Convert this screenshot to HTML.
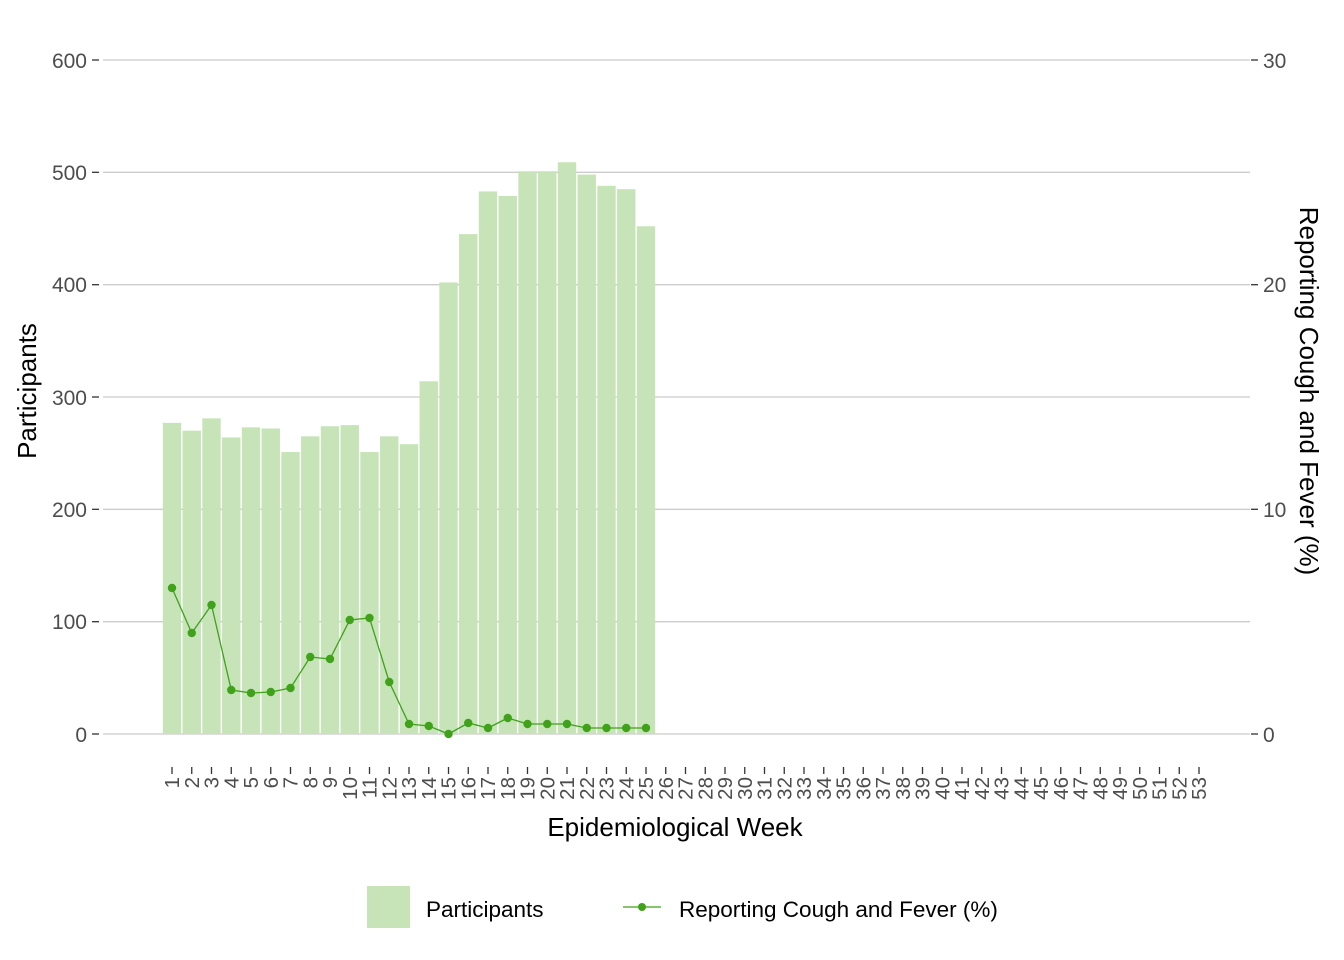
<!DOCTYPE html>
<html><head><meta charset="utf-8"><style>body{margin:0;background:#fff}svg{display:block;font-family:"Liberation Sans",Arial,sans-serif}</style></head><body>
<svg width="1344" height="960" viewBox="0 0 1344 960" xmlns="http://www.w3.org/2000/svg">
<g stroke="#cccccc" stroke-width="1.3">
<line x1="103" x2="1250" y1="60" y2="60"/><line x1="103" x2="1250" y1="172.3" y2="172.3"/><line x1="103" x2="1250" y1="284.7" y2="284.7"/><line x1="103" x2="1250" y1="397" y2="397"/><line x1="103" x2="1250" y1="509.3" y2="509.3"/><line x1="103" x2="1250" y1="621.7" y2="621.7"/><line x1="103" x2="1250" y1="734" y2="734"/>
</g>
<g stroke="#333" stroke-width="1.3">
<line x1="92" x2="99" y1="60" y2="60"/><line x1="92" x2="99" y1="172.3" y2="172.3"/><line x1="92" x2="99" y1="284.7" y2="284.7"/><line x1="92" x2="99" y1="397" y2="397"/><line x1="92" x2="99" y1="509.3" y2="509.3"/><line x1="92" x2="99" y1="621.7" y2="621.7"/><line x1="92" x2="99" y1="734" y2="734"/>
<line x1="1251" x2="1258" y1="60" y2="60"/><line x1="1251" x2="1258" y1="284.7" y2="284.7"/><line x1="1251" x2="1258" y1="509.3" y2="509.3"/><line x1="1251" x2="1258" y1="734" y2="734"/>
</g>
<g font-size="21" fill="#4d4d4d" text-anchor="end">
<text x="87" y="68">600</text><text x="87" y="180">500</text><text x="87" y="292">400</text><text x="87" y="405">300</text><text x="87" y="517">200</text><text x="87" y="629">100</text><text x="87" y="742">0</text>
</g>
<g font-size="21" fill="#4d4d4d">
<text x="1263" y="68">30</text><text x="1263" y="292">20</text><text x="1263" y="517">10</text><text x="1263" y="742">0</text>
</g>
<text font-size="26" fill="#000" transform="translate(36,391) rotate(-90)" text-anchor="middle">Participants</text>
<text font-size="26" fill="#000" transform="translate(1300,391) rotate(90)" text-anchor="middle">Reporting Cough and Fever (%)</text>
<text font-size="26" fill="#000" x="675" y="836" text-anchor="middle">Epidemiological Week</text>
<g id="bars" fill="#c7e4b9"></g>
<g id="ticks"></g>
<polyline id="ln" fill="none" stroke="#3fa21a" stroke-width="1.3"/>
<g id="pts" fill="#3fa21a"></g>
<rect x="367" y="886" width="43" height="42" fill="#c7e4b9"/>
<text x="426" y="917" font-size="22.5" fill="#000">Participants</text>
<line x1="623" x2="661" y1="907" y2="907" stroke="#3fa21a" stroke-width="1.3"/>
<circle cx="642" cy="907" r="4" fill="#3fa21a"/>
<text x="679" y="917" font-size="22.5" fill="#000">Reporting Cough and Fever (%)</text>
<script>
var ns="http://www.w3.org/2000/svg";
var b=[277,270,281,264,273,272,251,265,274,275,251,265,258,314,402,445,483,479,501,501,509,498,488,485,452];
var ly=[588,633,605,690,693,692,688,657,659,620,618,682,724,726,734,723,728,718,724,724,724,728,728,728,728];
var s=19.75,k=674/600,pts=[];
function X(i){return 172+(i-1)*s}
b.forEach(function(v,j){var r=document.createElementNS(ns,"rect");var h=v*k;r.setAttribute("x",X(j+1)-9.2);r.setAttribute("width",18.4);r.setAttribute("y",734-h);r.setAttribute("height",h);document.getElementById("bars").appendChild(r);});
ly.forEach(function(y,j){pts.push(X(j+1)+","+y);var c=document.createElementNS(ns,"circle");c.setAttribute("cx",X(j+1));c.setAttribute("cy",y);c.setAttribute("r",4.2);document.getElementById("pts").appendChild(c);});
document.getElementById("ln").setAttribute("points",pts.join(" "));
var t=document.getElementById("ticks");
for(var i=1;i<=53;i++){var x=X(i);var l=document.createElementNS(ns,"line");l.setAttribute("x1",x);l.setAttribute("x2",x);l.setAttribute("y1",767);l.setAttribute("y2",774);l.setAttribute("stroke","#333");l.setAttribute("stroke-width","1.3");t.appendChild(l);
var tx=document.createElementNS(ns,"text");tx.setAttribute("transform","translate("+(x+7)+",777) rotate(-90)");tx.setAttribute("text-anchor","end");tx.setAttribute("font-size","20.5");tx.setAttribute("fill","#4d4d4d");tx.textContent=i;t.appendChild(tx);}
</script>
</svg>
</body></html>
